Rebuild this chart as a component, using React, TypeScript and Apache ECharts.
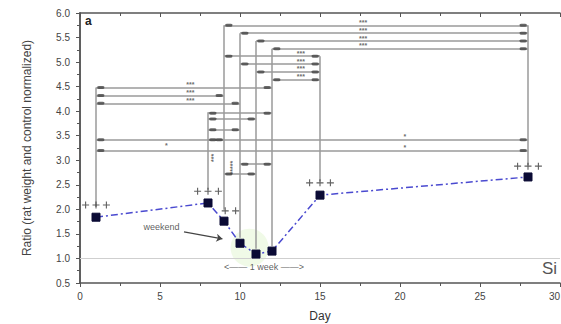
import React, { useEffect, useRef } from "react";
import * as echarts from "echarts";

// Measured ratios
const days = [1, 8, 9, 10, 11, 12, 15, 28];
const ratios = [1.84, 2.13, 1.76, 1.31, 1.09, 1.15, 2.29, 2.66];

// vertical stems [day, bottom, top]
const stems: [number, number, number][] = [
  [1, 2.05, 4.48],
  [8, 2.4, 3.98],
  [9, 1.99, 5.75],
  [10, 1.42, 5.59],
  [11, 1.2, 5.43],
  [12, 1.25, 5.27],
  [15, 2.57, 5.12],
  [28, 2.9, 5.75],
];

// brackets [fromDay, toDay, level, label, labelDay]
const brackets: [number, number, number, string, number][] = [
  [9, 28, 5.75, "***", 17.7],
  [10, 28, 5.59, "***", 17.7],
  [11, 28, 5.43, "***", 17.7],
  [12, 28, 5.27, "***", 17.7],
  [9, 15, 5.12, "***", 13.8],
  [10, 15, 4.96, "***", 13.8],
  [11, 15, 4.8, "***", 13.8],
  [12, 15, 4.64, "***", 13.8],
  [1, 12, 4.48, "***", 6.9],
  [1, 9, 4.32, "***", 6.9],
  [1, 10, 4.16, "***", 6.9],
  [8, 12, 3.96, "", 0],
  [8, 11, 3.84, "", 0],
  [8, 10, 3.62, "", 0],
  [8, 9, 3.42, "", 0],
  [1, 28, 3.42, "*", 20.3],
  [1, 28, 3.2, "*", 20.3],
  [10, 12, 2.92, "", 0],
  [9, 11, 2.72, "", 0],
];

// extra labels [day, value, text, rotate]
const extraLabels: [number, number, string, number][] = [
  [5.4, 3.31, "*", 0],
  [9.5, 2.85, "*****", 90],
  [8.35, 3.05, "***", 90],
];

// control-comparison "+" marks [centre day, value, count]
const plusMarks: [number, number, number][] = [
  [1, 2.09, 3],
  [8, 2.37, 3],
  [9.4, 1.97, 2],
  [15, 2.54, 3],
  [28, 2.88, 3],
];

const xTicks = [0, 30, 5];
const yTicks = [0.5, 6, 0.5];

export default function App() {
  const ref = useRef<HTMLDivElement>(null);
  useEffect(() => {
    if (!ref.current) return;
    const chart = echarts.init(ref.current, undefined, { renderer: "svg" });
    const font = "Liberation Sans, Arial, sans-serif";
    const axisColor = "#555";
    const bracketColor = "#9a9a9a";
    const gridTop = 13;
    const gridBottom = 41;
    const pxPerUnit = (324 - gridTop - gridBottom) / (yTicks[1] - yTicks[0]);

    const blobs: number[][] = [];
    brackets.forEach(([a, b, lv]) => {
      blobs.push([a + 0.3, lv]);
      blobs.push([b - 0.3, lv]);
    });

    // group stacked labels sharing the same label position into one text block
    const groups: Record<string, { day: number; levels: number[]; t: string }> = {};
    brackets
      .filter((b) => b[3])
      .forEach((b) => {
        const key = b[4] + "|" + b[3];
        if (!groups[key]) groups[key] = { day: b[4], levels: [], t: b[3] };
        groups[key].levels.push(b[2]);
      });
    const groupLabels = Object.values(groups).map((g) => {
      const hi = Math.max(...g.levels);
      const lo = Math.min(...g.levels);
      const n = g.levels.length;
      const lh = n > 1 ? ((hi - lo) / (n - 1)) * pxPerUnit : 8;
      return {
        value: [g.day, (hi + lo) / 2 + 0.06],
        t: g.levels.map(() => g.t).join("\n"),
        label: { lineHeight: lh },
      };
    });
    const extra = extraLabels.map((l) => ({
      value: [l[0], l[1]],
      t: l[2],
      label: l[3] ? { rotate: l[3] } : undefined,
    }));

    const plusData: number[][] = [];
    plusMarks.forEach(([d, v, n]) => {
      for (let i = 0; i < n; i++) plusData.push([d + (i - (n - 1) / 2) * 0.65, v]);
    });

    chart.setOption({
      animation: false,
      textStyle: { fontFamily: font },
      grid: {
        left: 80,
        right: 1,
        top: gridTop,
        bottom: gridBottom,
        containLabel: false,
        outerBoundsMode: "none",
      },
      xAxis: [
        {
          type: "value",
          min: xTicks[0],
          max: xTicks[1],
          interval: xTicks[2],
          name: "Day",
          nameLocation: "middle",
          nameGap: 27,
          nameTextStyle: { fontSize: 12, color: "#333", fontFamily: font },
          axisLine: { lineStyle: { color: axisColor, width: 1.5 } },
          axisTick: { length: 4, lineStyle: { color: axisColor } },
          minorTick: { show: true, splitNumber: 2, length: 3, lineStyle: { color: axisColor } },
          axisLabel: {
            fontSize: 10,
            color: "#444",
            margin: 8,
            fontFamily: font,
            alignMaxLabel: "right",
          },
          splitLine: { show: false },
        },
        {
          type: "value",
          position: "top",
          min: xTicks[0],
          max: xTicks[1],
          interval: xTicks[2],
          axisLine: { lineStyle: { color: axisColor, width: 1.5 } },
          axisTick: { inside: true, length: 4, lineStyle: { color: axisColor } },
          minorTick: { show: true, splitNumber: 2, length: 3, lineStyle: { color: axisColor } },
          axisLabel: { show: false },
          splitLine: { show: false },
        },
      ],
      yAxis: [
        {
          type: "value",
          min: yTicks[0],
          max: yTicks[1],
          interval: yTicks[2],
          name: "Ratio (rat weight and control normalized)",
          nameLocation: "middle",
          nameGap: 47,
          nameTextStyle: { fontSize: 12, color: "#444", fontFamily: font },
          axisLine: { lineStyle: { color: axisColor, width: 1.5 } },
          axisTick: { length: 4, lineStyle: { color: axisColor } },
          minorTick: { show: true, splitNumber: 2, length: 3, lineStyle: { color: axisColor } },
          axisLabel: {
            fontSize: 10,
            color: "#444",
            margin: 10,
            fontFamily: font,
            formatter: (v: number) => v.toFixed(1),
          },
          splitLine: { show: false },
        },
        {
          type: "value",
          position: "right",
          min: yTicks[0],
          max: yTicks[1],
          interval: yTicks[2],
          axisLine: { lineStyle: { color: axisColor, width: 1.5 } },
          axisTick: { inside: true, length: 4, lineStyle: { color: axisColor } },
          minorTick: { show: true, splitNumber: 2, length: 3, lineStyle: { color: axisColor } },
          axisLabel: { show: false },
          splitLine: { show: false },
        },
      ],
      graphic: [
        {
          type: "text",
          left: 85,
          top: 15,
          style: { text: "a", font: "bold 12px " + font, fill: "#222" },
        },
        {
          type: "text",
          right: 4,
          top: 260,
          style: { text: "Si", font: "17px " + font, fill: "#555" },
        },
      ],
      series: [
        {
          type: "scatter",
          silent: true,
          symbolSize: 38,
          itemStyle: { color: "rgba(200,238,170,0.35)" },
          data: [[10.6, 1.22]],
          z: 1,
        },
        {
          type: "lines",
          coordinateSystem: "cartesian2d",
          silent: true,
          lineStyle: { color: bracketColor, width: 1.5, opacity: 1 },
          data: stems.map(([d, a, b]) => ({ coords: [[d, a], [d, b]] })),
          z: 2,
        },
        {
          type: "lines",
          coordinateSystem: "cartesian2d",
          silent: true,
          lineStyle: { color: bracketColor, width: 1.5, opacity: 1 },
          data: brackets.map(([a, b, lv]) => ({ coords: [[a, lv], [b, lv]] })),
          markLine: {
            silent: true,
            symbol: "none",
            label: { show: false },
            lineStyle: { color: "#cfcfcf", width: 1.2, type: "solid" },
            data: [{ yAxis: 1.0 }],
          },
          z: 2,
        },
        {
          type: "scatter",
          silent: true,
          symbol: "roundRect",
          symbolSize: [7, 3],
          itemStyle: { color: "#444" },
          data: blobs,
          z: 3,
        },
        {
          type: "scatter",
          silent: true,
          symbolSize: 1,
          itemStyle: { color: "rgba(0,0,0,0)" },
          label: {
            show: true,
            position: "inside",
            fontSize: 7,
            fontWeight: "bold",
            color: "#444",
            textBorderWidth: 0,
            formatter: (p: any) => p.data.t,
          },
          data: [...groupLabels, ...extra],
          z: 4,
        },
        {
          type: "scatter",
          silent: true,
          symbol: "path://M0,4.2H4.2V0H5.8V4.2H10V5.8H5.8V10H4.2V5.8H0Z",
          symbolSize: 7,
          itemStyle: { color: "#3a3a3a" },
          data: plusData,
          z: 4,
        },
        {
          type: "line",
          data: days.map((d, i) => [d, ratios[i]]),
          symbol: "rect",
          symbolSize: 8,
          showSymbol: true,
          lineStyle: { color: "#4a4ad0", width: 1.5, type: [7, 3, 2, 3] },
          itemStyle: { color: "#0b0b35", borderColor: "#0b0b35" },
          z: 5,
        },
        {
          type: "lines",
          coordinateSystem: "cartesian2d",
          silent: true,
          symbol: ["none", "arrow"],
          symbolSize: 6,
          lineStyle: { color: "#444", width: 1.2, opacity: 1 },
          data: [{ coords: [[6.5, 1.54], [8.9, 1.4]] }],
          z: 5,
        },
        {
          type: "scatter",
          silent: true,
          symbolSize: 1,
          itemStyle: { color: "rgba(0,0,0,0)" },
          label: {
            show: true,
            position: "inside",
            fontSize: 9,
            color: "#333",
            textBorderWidth: 0,
            formatter: (p: any) => p.data.t,
          },
          data: [
            { value: [5.1, 1.64], t: "weekend" },
            { value: [11.5, 0.83], t: "<—— 1 week ——>" },
          ],
          z: 6,
        },
      ],
    });
    return () => chart.dispose();
  }, []);
  return <div ref={ref} style={{ width: 561, height: 324, position: "absolute", left: 0, top: 0 }} />;
}
